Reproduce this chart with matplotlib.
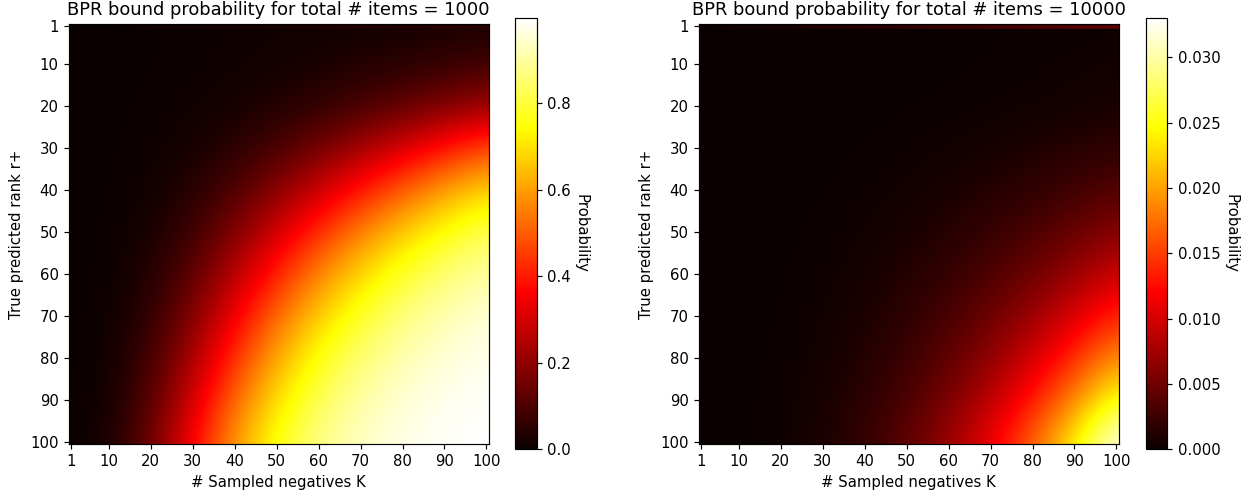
import numpy as np
import matplotlib.pyplot as plt

k_vals = [1, 10, 20, 30, 40, 50, 60, 70, 80, 90, 100]
r_vals = [2, 10, 20, 30, 40, 50, 60, 70, 80, 90, 100]
ticks = [1, 10, 20, 30, 40, 50, 60, 70, 80, 90, 100]

# total # items = 1000
row1_1000 = [0.000, 0.003, 0.008, 0.013, 0.018, 0.023, 0.028, 0.033, 0.038, 0.043, 0.048]
prob_1000 = [
    [0.000, 0.001, 0.003, 0.005, 0.007, 0.009, 0.011, 0.013, 0.015, 0.018, 0.021],
    [0.000, 0.001, 0.003, 0.006, 0.010, 0.016, 0.023, 0.033, 0.045, 0.060, 0.080],
    [0.000, 0.002, 0.005, 0.010, 0.018, 0.033, 0.056, 0.088, 0.126, 0.170, 0.215],
    [0.000, 0.002, 0.007, 0.020, 0.048, 0.094, 0.156, 0.229, 0.308, 0.390, 0.470],
    [0.000, 0.002, 0.012, 0.042, 0.102, 0.187, 0.288, 0.395, 0.501, 0.598, 0.684],
    [0.000, 0.003, 0.022, 0.077, 0.175, 0.297, 0.430, 0.555, 0.665, 0.754, 0.825],
    [0.000, 0.004, 0.036, 0.123, 0.258, 0.410, 0.559, 0.686, 0.785, 0.857, 0.909],
    [0.000, 0.006, 0.056, 0.177, 0.346, 0.518, 0.670, 0.785, 0.866, 0.921, 0.954],
    [0.000, 0.009, 0.081, 0.238, 0.433, 0.616, 0.760, 0.857, 0.920, 0.957, 0.978],
    [0.000, 0.012, 0.110, 0.300, 0.516, 0.700, 0.828, 0.908, 0.953, 0.977, 0.990],
    [0.000, 0.018, 0.143, 0.366, 0.593, 0.768, 0.879, 0.941, 0.973, 0.988, 0.996],
]

# total # items = 10000 (values in units of 1e-3)
row1_10000 = [0.0, 0.3, 0.7, 1.1, 1.5, 1.9, 2.3, 2.7, 3.1, 3.5, 3.9]
prob_10000 = [
    [0.0, 0.0, 0.01, 0.02, 0.04, 0.06, 0.08, 0.10, 0.13, 0.16, 0.20],
    [0.0, 0.0, 0.01, 0.02, 0.03, 0.05, 0.08, 0.12, 0.20, 0.30, 0.45],
    [0.0, 0.001, 0.006, 0.02, 0.05, 0.09, 0.15, 0.24, 0.36, 0.52, 0.75],
    [0.0, 0.002, 0.015, 0.05, 0.12, 0.23, 0.40, 0.63, 0.94, 1.34, 1.84],
    [0.0, 0.004, 0.029, 0.10, 0.23, 0.46, 0.79, 1.26, 1.88, 2.67, 3.66],
    [0.0, 0.006, 0.05, 0.17, 0.40, 0.78, 1.35, 2.14, 3.20, 4.56, 6.25],
    [0.0, 0.010, 0.08, 0.26, 0.62, 1.21, 2.09, 3.32, 4.95, 7.05, 9.67],
    [0.0, 0.014, 0.11, 0.38, 0.90, 1.75, 3.03, 4.81, 7.18, 10.2, 14.0],
    [0.0, 0.019, 0.15, 0.52, 1.24, 2.41, 4.17, 6.62, 9.88, 14.1, 19.3],
    [0.0, 0.026, 0.21, 0.69, 1.64, 3.20, 5.53, 8.79, 13.1, 18.7, 25.6],
    [0.0, 0.033, 0.26, 0.89, 2.11, 4.13, 7.13, 11.3, 16.9, 24.1, 33.0],
]

panels = [
    ("BPR bound probability for total # items = 1000",
     np.array(row1_1000), np.array(prob_1000)),
    ("BPR bound probability for total # items = 10000",
     np.array(row1_10000) * 1e-3, np.array(prob_10000) * 1e-3),
]

DPI = 107
W, H = 1254, 495
fig = plt.figure(figsize=(W / DPI, H / DPI), dpi=DPI)

ax_px = [(69, 51.3), (699, 51.3)]
cb_px = [(514.7, 22), (1145.7, 21.6)]

# the read grid is (almost) evenly spaced by 10, so let imshow place it
step = 10
x0, x1 = k_vals[0] - 1 - step / 2, k_vals[-1] + step / 2
y0, y1 = r_vals[0] - 2 - step / 2, r_vals[-1] + step / 2

# K positions for the single rank-1 row
kx = np.array(k_vals, dtype=float)
kx[0], kx[-1] = 0.5, 100.5

for (title, row1, grid), (ax_x, ax_y), (cb_x, cb_w) in zip(panels, ax_px, cb_px):
    ax = fig.add_axes([ax_x / W, ax_y / H, 419.5 / W, 419.5 / H])
    norm = plt.Normalize(0, max(grid.max(), row1.max()))
    im = ax.imshow(grid, cmap='hot', norm=norm, interpolation='bicubic',
                   extent=(x0, x1, y1, y0), aspect='auto')
    # rank 1 is drawn as its own row on top
    ax.pcolormesh(kx, [0.5, 1.5], np.vstack([row1, row1]), shading='gouraud',
                  cmap='hot', norm=norm)
    ax.set_xlim(0.5, 100.5)
    ax.set_ylim(100.5, 0.5)
    ax.set_xticks(ticks)
    ax.set_yticks(ticks)
    ax.set_title(title)
    ax.set_xlabel('# Sampled negatives K')
    ax.set_ylabel('True predicted rank r+')

    cax = fig.add_axes([cb_x / W, 45.7 / H, cb_w / W, 431 / H])
    cbar = fig.colorbar(im, cax=cax)
    cbar.set_label('Probability', rotation=270, labelpad=12)

fig.savefig('out.png', dpi=DPI)
